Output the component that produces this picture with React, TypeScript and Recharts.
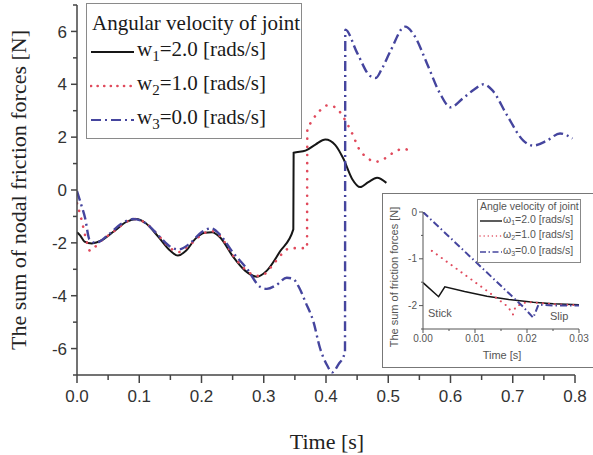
import { LineChart, Line, XAxis, YAxis } from "recharts";

// main chart: sum of nodal friction forces vs time
const w1Time = [0, 0.005, 0.012, 0.024, 0.04, 0.06, 0.08, 0.095, 0.11, 0.13, 0.15, 0.162, 0.175, 0.19, 0.205, 0.217, 0.23, 0.25, 0.27, 0.289, 0.305, 0.326, 0.3475, 0.348, 0.367, 0.383, 0.399, 0.415, 0.428, 0.442, 0.455, 0.468, 0.482, 0.497];
const w1Force = [-1.6, -1.72, -1.95, -2.02, -1.9, -1.55, -1.2, -1.1, -1.25, -1.75, -2.3, -2.48, -2.3, -1.85, -1.62, -1.6, -1.8, -2.5, -3.05, -3.28, -3.05, -2.33, -1.49, 1.41, 1.49, 1.72, 1.91, 1.7, 1.18, 0.42, 0.11, 0.3, 0.46, 0.27];

const w2Time = [0, 0.008, 0.015, 0.021, 0.035, 0.06, 0.08, 0.095, 0.11, 0.13, 0.15, 0.163, 0.18, 0.2, 0.215, 0.23, 0.25, 0.27, 0.29, 0.3, 0.315, 0.33, 0.342, 0.36, 0.3695, 0.37, 0.378, 0.39, 0.402, 0.415, 0.428, 0.442, 0.453, 0.466, 0.48, 0.495, 0.508, 0.524, 0.537];
const w2Force = [-0.5, -1.2, -1.9, -2.3, -2.0, -1.55, -1.2, -1.1, -1.25, -1.7, -2.2, -2.35, -2.1, -1.7, -1.55, -1.75, -2.45, -3.0, -3.25, -3.2, -2.82, -2.4, -2.2, -2.2, -2.2, 2.25, 2.63, 3.0, 3.2, 3.13, 2.75, 2.14, 1.56, 1.22, 1.07, 1.2, 1.41, 1.56, 1.45];

const w3Time = [0, 0.006, 0.013, 0.02, 0.03, 0.05, 0.07, 0.09, 0.11, 0.13, 0.15, 0.163, 0.18, 0.2, 0.215, 0.23, 0.25, 0.273, 0.294, 0.305, 0.32, 0.337, 0.347, 0.357, 0.367, 0.38, 0.39, 0.402, 0.41, 0.42, 0.4305, 0.431, 0.45, 0.471, 0.48, 0.49, 0.503, 0.527, 0.543, 0.562, 0.583, 0.6, 0.62, 0.638, 0.653, 0.667, 0.691, 0.717, 0.733, 0.755, 0.776, 0.796];
const w3Force = [-0.04, -0.5, -1.06, -1.87, -2.0, -1.7, -1.3, -1.1, -1.25, -1.7, -2.15, -2.25, -2.05, -1.6, -1.45, -1.7, -2.35, -2.98, -3.66, -3.74, -3.6, -3.32, -3.36, -3.7, -4.24, -5.0, -5.95, -6.64, -6.9, -6.6, -6.14, 6.07, 5.19, 4.31, 4.24, 4.6, 5.23, 6.18, 5.8, 4.8, 3.66, 3.13, 3.47, 3.8, 4.0, 3.78, 2.82, 1.87, 1.68, 1.87, 2.14, 1.95];

// inset: first 0.03 s (stick / slip)
const inW1Time = [0, 0.003, 0.0042, 0.008, 0.0123, 0.0165, 0.0212, 0.025, 0.03];
const inW1Force = [-1.51, -1.81, -1.6, -1.7, -1.8, -1.87, -1.93, -1.96, -1.98];
const inW2Time = [0.0017, 0.012, 0.0163, 0.0173, 0.0178, 0.02, 0.025, 0.03];
const inW2Force = [-0.83, -1.66, -2.02, -2.19, -2.02, -1.92, -1.97, -1.99];
const inW3Time = [0, 0.0192, 0.0212, 0.0222, 0.025, 0.03];
const inW3Force = [0, -2.02, -2.26, -1.98, -2.0, -2.0];

const xTicks = [0, 0.05, 0.1, 0.15, 0.2, 0.25, 0.3, 0.35, 0.4, 0.45, 0.5, 0.55, 0.6, 0.65, 0.7, 0.75, 0.8];
const yTicks = [-7, -6, -5, -4, -3, -2, -1, 0, 1, 2, 3, 4, 5, 6, 7];
const inXTicks = [0, 0.005, 0.01, 0.015, 0.02, 0.025, 0.03];
const inYTicks = [-2.5, -2, -1.5, -1, -0.5, 0];

const BLACK = "#161616";
const RED = "#e04a5c";
const BLUE = "#45459e";
const AXIS = "#444";
const SANS = "'Liberation Sans', Arial, sans-serif";
const SERIF = "'Liberation Serif', 'Times New Roman', serif";

const toSeries = (t: number[], f: number[]) => t.map((x, i) => ({ t: x, f: f[i] }));

function MainXTick({ x, y, payload }: any) {
  const v = payload.value;
  const major = Math.abs(v * 10 - Math.round(v * 10)) < 1e-6;
  return (
    <g>
      <line x1={x} x2={x} y1={y} y2={y + (major ? 8 : 5)} stroke={AXIS} strokeWidth={1.5} />
      {major && (
        <text x={x} y={y + 27} textAnchor="middle" fontSize={17} fill="#333" fontFamily={SANS}>
          {v.toFixed(1)}
        </text>
      )}
    </g>
  );
}

function MainYTick({ x, y, payload }: any) {
  const v = payload.value;
  const major = v % 2 === 0;
  return (
    <g>
      <line x1={x - (major ? 6 : 4)} x2={x} y1={y} y2={y} stroke={AXIS} strokeWidth={1.5} />
      {major && (
        <text x={x - 10} y={y} dy="0.36em" textAnchor="end" fontSize={17} fill="#333" fontFamily={SANS}>
          {v}
        </text>
      )}
    </g>
  );
}

function InXTick({ x, y, payload }: any) {
  const v = payload.value;
  const major = Math.abs(v * 100 - Math.round(v * 100)) < 1e-6;
  return (
    <g>
      <line x1={x} x2={x} y1={y} y2={y + (major ? 4 : 2)} stroke="#555" strokeWidth={1} />
      {major && (
        <text x={x} y={y + 13} textAnchor="middle" fontSize={10} fill="#555" fontFamily={SANS}>
          {v.toFixed(2)}
        </text>
      )}
    </g>
  );
}

function InYTick({ x, y, payload }: any) {
  const v = payload.value;
  const major = Number.isInteger(v);
  return (
    <g>
      <line x1={x - (major ? 4 : 2)} x2={x} y1={y} y2={y} stroke="#555" strokeWidth={1} />
      {major && (
        <text x={x - 6} y={y} dy="0.35em" textAnchor="end" fontSize={10} fill="#555" fontFamily={SANS}>
          {v}
        </text>
      )}
    </g>
  );
}

function Sample({ kind, w, small }: { kind: string; w: number; small?: boolean }) {
  const sw = small ? 1.4 : kind === "dot" ? 2.6 : 2;
  const dash = kind === "dot" ? (small ? "0.1 4" : "0.1 6.5") : kind === "dashdot" ? (small ? "6 2.5 1.5 2.5" : "10 4 2 4") : undefined;
  const color = kind === "dot" ? RED : kind === "dashdot" ? BLUE : BLACK;
  return (
    <svg width={w} height={10} style={{ display: "block", flex: "none" }}>
      <line x1={1} x2={w - 1} y1={5} y2={5} stroke={color} strokeWidth={sw} strokeDasharray={dash} strokeLinecap={kind === "dot" ? "round" : "butt"} />
    </svg>
  );
}

const legendRows = [
  { kind: "solid", sub: "1", rest: "=2.0 [rads/s]" },
  { kind: "dot", sub: "2", rest: "=1.0 [rads/s]" },
  { kind: "dashdot", sub: "3", rest: "=0.0 [rads/s]" },
];

export default function App() {
  return (
    <div style={{ position: "fixed", left: 0, top: 0, width: 593, height: 455, background: "#fff", overflow: "hidden" }}>
      <LineChart width={593} height={455} margin={{ top: 5, right: 18, left: 0, bottom: 0 }}>
        <XAxis type="number" dataKey="t" domain={[0, 0.8]} ticks={xTicks} interval={0} height={80}
          tickSize={0} tickMargin={0} tickLine={false} axisLine={{ stroke: AXIS, strokeWidth: 1.5 }} tick={MainXTick} allowDataOverflow />
        <YAxis type="number" dataKey="f" domain={[-7, 7]} ticks={yTicks} interval={0} width={77}
          tickSize={0} tickMargin={0} tickLine={false} axisLine={{ stroke: AXIS, strokeWidth: 1.5 }} tick={MainYTick} allowDataOverflow />
        <Line data={toSeries(w1Time, w1Force)} dataKey="f" type="monotone" stroke={BLACK} strokeWidth={2} dot={false} isAnimationActive={false} />
        <Line data={toSeries(w2Time, w2Force)} dataKey="f" type="monotone" stroke={RED} strokeWidth={2.6} strokeDasharray="0.1 8" strokeLinecap="round" dot={false} isAnimationActive={false} />
        <Line data={toSeries(w3Time, w3Force)} dataKey="f" type="monotone" stroke={BLUE} strokeWidth={2.4} strokeDasharray="10 4 2 4" dot={false} isAnimationActive={false} />
      </LineChart>

      <svg width={593} height={455} style={{ position: "absolute", left: 0, top: 0, pointerEvents: "none" }}>
        <text transform="translate(26,190) rotate(-90)" textAnchor="middle" fontSize={22} fontFamily={SERIF} fill="#222">
          The sum of nodal friction forces [N]
        </text>
        <text x={327} y={449} textAnchor="middle" fontSize={22} fontFamily={SERIF} fill="#222">
          Time [s]
        </text>
      </svg>

      {/* main legend */}
      <div style={{ position: "absolute", left: 86, top: 3, width: 216, height: 136, boxSizing: "border-box", border: "1px solid #8a8a8a", background: "#fff", fontFamily: SERIF, color: "#1a1a1a" }}>
        <div style={{ position: "absolute", left: 5, top: 7, fontSize: 21, lineHeight: "24px", whiteSpace: "nowrap" }}>Angular velocity of joint</div>
        {legendRows.map((r, i) => (
          <div key={i} style={{ position: "absolute", left: 3, top: 33 + i * 34, height: 30, display: "flex", alignItems: "center", whiteSpace: "nowrap" }}>
            <Sample kind={r.kind} w={45} />
            <span style={{ fontSize: 21, lineHeight: "30px", marginLeft: 2 }}>
              w<span style={{ fontSize: 15, verticalAlign: "-5px" }}>{r.sub}</span>{r.rest}
            </span>
          </div>
        ))}
      </div>

      {/* inset */}
      <div style={{ position: "absolute", left: 382, top: 193, width: 215, height: 175, boxSizing: "border-box", border: "1px solid #777", background: "#fff" }}>
        <div style={{ position: "absolute", left: -1, top: -1 }}>
          <LineChart width={211} height={174} margin={{ top: 19, right: 14, left: 0, bottom: 0 }}>
            <XAxis type="number" dataKey="t" domain={[0, 0.03]} ticks={inXTicks} interval={0} height={38}
              tickSize={0} tickMargin={0} tickLine={false} axisLine={{ stroke: "#555", strokeWidth: 1 }} tick={InXTick} allowDataOverflow />
            <YAxis type="number" dataKey="f" domain={[-2.5, 0]} ticks={inYTicks} interval={0} width={41}
              tickSize={0} tickMargin={0} tickLine={false} axisLine={{ stroke: "#555", strokeWidth: 1 }} tick={InYTick} allowDataOverflow />
            <Line data={toSeries(inW1Time, inW1Force)} dataKey="f" type="linear" stroke={BLACK} strokeWidth={1.5} dot={false} isAnimationActive={false} />
            <Line data={toSeries(inW2Time, inW2Force)} dataKey="f" type="linear" stroke={RED} strokeWidth={2} strokeDasharray="0.1 6" strokeLinecap="round" dot={false} isAnimationActive={false} />
            <Line data={toSeries(inW3Time, inW3Force)} dataKey="f" type="linear" stroke={BLUE} strokeWidth={2} strokeDasharray="7 3 1.5 3" dot={false} isAnimationActive={false} />
          </LineChart>
          <svg width={211} height={174} style={{ position: "absolute", left: 0, top: 0, pointerEvents: "none" }}>
            <text transform="translate(16,84) rotate(-90)" textAnchor="middle" fontSize={11} fontFamily={SANS} fill="#555">
              The sum of friction forces [N]
            </text>
            <text x={120} y={166} textAnchor="middle" fontSize={11} fontFamily={SANS} fill="#555">Time [s]</text>
            <text x={46} y={124} fontSize={11} fontFamily={SANS} fill="#555">Stick</text>
            <text x={168} y={127} fontSize={11} fontFamily={SANS} fill="#555">Slip</text>
          </svg>
          <div style={{ position: "absolute", left: 95, top: 6, width: 104, height: 64, boxSizing: "border-box", border: "1px solid #888", background: "#fff", fontFamily: SANS, color: "#555", fontSize: 10.5 }}>
            <div style={{ position: "absolute", left: 2, top: 0, lineHeight: "13px", whiteSpace: "nowrap" }}>Angle velocity of joint</div>
            {legendRows.map((r, i) => (
              <div key={i} style={{ position: "absolute", left: 1, top: 13 + i * 15.5, height: 15, display: "flex", alignItems: "center", whiteSpace: "nowrap" }}>
                <Sample kind={r.kind} w={24} small />
                <span style={{ lineHeight: "15px" }}>
                  ω<span style={{ fontSize: 7, verticalAlign: "-2px" }}>{r.sub}</span>{r.rest}
                </span>
              </div>
            ))}
          </div>
        </div>
      </div>
    </div>
  );
}
